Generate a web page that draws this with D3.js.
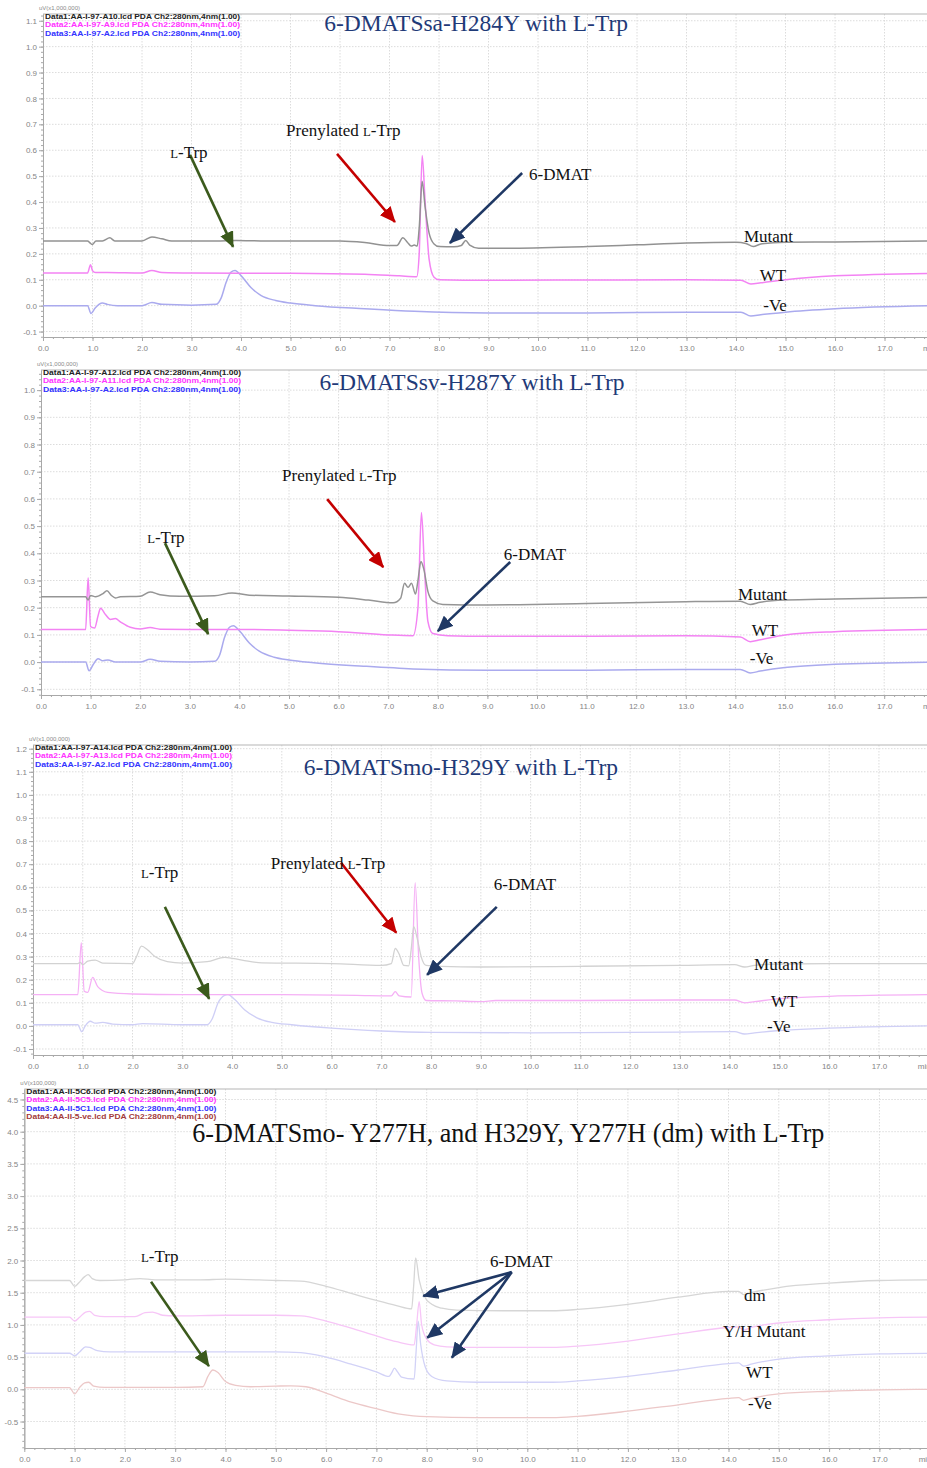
<!DOCTYPE html>
<html>
<head>
<meta charset="utf-8">
<script src="https://cdn.jsdelivr.net/npm/d3@7"></script>
<style>
  body { margin: 0; background: #fff; }
  svg { display: block; font-family: "Liberation Sans", Arial, sans-serif; }
  .axis path, .axis line { stroke: #a8a8a8; }
  .axis text { fill: #858585; font-size: 8px; }
  .grid line { stroke: #dcdcdc; stroke-dasharray: 1.5,1.5; }
  .serif { font-family: "Liberation Serif", "Times New Roman", serif; }
</style>
</head>
<body>
<svg id="chart" width="927" height="1468"></svg>
<script>
// ---- data (retention time in min, signal) ----
var minuteTicks = [0, 1, 2, 3, 4, 5, 6, 7, 8, 9, 10, 11, 12, 13, 14, 15, 16, 17];

// 6-DMATSsa-H284Y
var saMutant = [[0,0.25],[0.9,0.25],[0.95,0.242],[1.0,0.236],[1.07,0.25],[1.2,0.25],[1.35,0.262],[1.45,0.25],[2.0,0.25],[2.2,0.265],[2.4,0.258],[2.6,0.25],[3.5,0.25],[3.9,0.252],[4.5,0.25],[6.0,0.25],[6.5,0.244],[7.0,0.232],[7.15,0.232],[7.27,0.262],[7.36,0.245],[7.44,0.23],[7.5,0.234],[7.56,0.23],[7.6,0.3],[7.66,0.48],[7.72,0.38],[7.8,0.28],[7.9,0.238],[8.0,0.228],[8.3,0.227],[8.45,0.232],[8.54,0.252],[8.62,0.234],[8.8,0.222],[9.5,0.222],[11,0.228],[12,0.235],[13,0.242],[14.0,0.245],[14.2,0.24],[14.35,0.228],[14.5,0.238],[15,0.245],[16,0.246],[18,0.25]];
var saWT = [[0,0.126],[0.9,0.126],[0.96,0.158],[1.0,0.135],[1.06,0.128],[1.3,0.128],[2.0,0.126],[2.2,0.136],[2.4,0.128],[3,0.126],[5,0.125],[6.5,0.121],[7.2,0.115],[7.55,0.112],[7.6,0.2],[7.66,0.58],[7.72,0.4],[7.8,0.18],[7.9,0.11],[8.0,0.1],[9,0.098],[11,0.099],[13,0.1],[14.1,0.098],[14.3,0.084],[14.5,0.088],[15,0.1],[16,0.115],[18,0.125]];
var saNeg = [[0,0.0],[0.9,0.0],[0.97,-0.03],[1.05,-0.01],[1.2,0.01],[1.3,0.005],[1.5,0.0],[2.0,0.0],[2.2,0.012],[2.4,0.005],[3.0,0.002],[3.5,0.005],[3.6,0.03],[3.7,0.09],[3.8,0.13],[3.88,0.136],[4.0,0.116],[4.2,0.07],[4.4,0.04],[4.7,0.02],[5.0,0.01],[5.5,0.0],[6.5,-0.012],[7.5,-0.022],[9,-0.028],[11,-0.028],[13,-0.025],[14.1,-0.025],[14.3,-0.04],[14.5,-0.035],[15,-0.025],[16,-0.012],[18,0.0]];
var saLegend = ["Data1:AA-I-97-A10.lcd PDA Ch2:280nm,4nm(1.00)", "Data2:AA-I-97-A9.lcd PDA Ch2:280nm,4nm(1.00)", "Data3:AA-I-97-A2.lcd PDA Ch2:280nm,4nm(1.00)"];

// 6-DMATSsv-H287Y
var svMutant = [[0,0.24],[0.9,0.24],[0.95,0.228],[1.0,0.245],[1.1,0.24],[1.25,0.252],[1.33,0.262],[1.42,0.245],[1.5,0.236],[1.6,0.24],[2.0,0.242],[2.2,0.258],[2.4,0.248],[2.8,0.242],[3.5,0.244],[3.85,0.254],[4.2,0.246],[5,0.243],[6,0.238],[6.6,0.228],[7.1,0.218],[7.25,0.235],[7.33,0.29],[7.4,0.275],[7.47,0.29],[7.55,0.25],[7.6,0.3],[7.66,0.37],[7.72,0.34],[7.8,0.26],[7.9,0.225],[8.1,0.212],[9,0.21],[11,0.215],[13,0.222],[14.1,0.224],[14.3,0.212],[14.5,0.22],[15,0.228],[16,0.232],[18,0.238]];
var svWT = [[0,0.12],[0.9,0.12],[0.95,0.31],[1.0,0.13],[1.08,0.125],[1.15,0.17],[1.2,0.198],[1.3,0.175],[1.4,0.157],[1.5,0.16],[1.6,0.148],[1.8,0.128],[2.0,0.122],[2.2,0.127],[2.4,0.121],[3,0.12],[4,0.12],[5,0.117],[6,0.112],[7,0.1],[7.5,0.097],[7.6,0.2],[7.67,0.55],[7.73,0.35],[7.8,0.15],[7.9,0.105],[8.2,0.097],[9,0.095],[11,0.095],[13,0.097],[14.1,0.092],[14.3,0.075],[14.5,0.082],[15,0.1],[16,0.112],[18,0.12]];
var svNeg = [[0,0.0],[0.9,0.0],[0.97,-0.032],[1.05,-0.01],[1.15,0.012],[1.25,0.005],[1.35,0.008],[1.5,0.0],[2.0,0.0],[2.2,0.01],[2.4,0.003],[3.0,0.0],[3.5,0.003],[3.6,0.025],[3.7,0.09],[3.8,0.128],[3.88,0.134],[4.0,0.115],[4.2,0.07],[4.4,0.04],[4.7,0.018],[5.0,0.008],[5.5,-0.002],[6.5,-0.015],[7.5,-0.025],[9,-0.03],[11,-0.03],[13,-0.027],[14.1,-0.027],[14.3,-0.04],[14.5,-0.033],[15,-0.02],[16,-0.008],[18,0.0]];
var svLegend = ["Data1:AA-I-97-A12.lcd PDA Ch2:280nm,4nm(1.00)", "Data2:AA-I-97-A11.lcd PDA Ch2:280nm,4nm(1.00)", "Data3:AA-I-97-A2.lcd PDA Ch2:280nm,4nm(1.00)"];

// 6-DMATSmo-H329Y
var moMutant = [[0,0.27],[0.9,0.27],[0.95,0.275],[1.0,0.265],[1.1,0.28],[1.25,0.285],[1.4,0.272],[2.0,0.27],[2.08,0.3],[2.18,0.345],[2.3,0.33],[2.45,0.3],[2.7,0.278],[3.0,0.272],[3.5,0.278],[3.85,0.297],[4.2,0.285],[4.6,0.273],[6,0.27],[7.0,0.262],[7.2,0.27],[7.28,0.335],[7.36,0.31],[7.45,0.262],[7.55,0.26],[7.6,0.33],[7.65,0.43],[7.72,0.38],[7.8,0.3],[7.9,0.262],[8.2,0.258],[9,0.255],[11,0.258],[13,0.262],[14.1,0.265],[14.3,0.255],[14.5,0.262],[15,0.268],[16,0.27],[18,0.27]];
var moWT = [[0,0.135],[0.9,0.135],[0.97,0.36],[1.03,0.15],[1.1,0.145],[1.2,0.21],[1.3,0.17],[1.5,0.145],[2,0.138],[3,0.135],[5,0.135],[6.5,0.132],[7.2,0.13],[7.28,0.148],[7.36,0.13],[7.6,0.125],[7.68,0.62],[7.75,0.3],[7.82,0.14],[7.9,0.11],[8.5,0.108],[9,0.105],[9.3,0.11],[11,0.11],[13,0.112],[14.1,0.112],[14.3,0.1],[14.5,0.105],[15,0.118],[16,0.128],[18,0.135]];
var moNeg = [[0,0.005],[0.9,0.005],[0.98,-0.025],[1.05,0.0],[1.15,0.02],[1.25,0.012],[1.4,0.015],[1.6,0.008],[2,0.005],[2.2,0.01],[3,0.005],[3.5,0.005],[3.6,0.03],[3.72,0.1],[3.85,0.132],[3.92,0.135],[4.05,0.115],[4.25,0.07],[4.5,0.035],[4.8,0.015],[5.2,0.005],[6,-0.01],[7,-0.022],[8,-0.028],[10,-0.03],[13,-0.027],[14.1,-0.025],[14.3,-0.035],[14.5,-0.03],[15,-0.02],[16,-0.01],[18,0.0]];
var moLegend = ["Data1:AA-I-97-A14.lcd PDA Ch2:280nm,4nm(1.00)", "Data2:AA-I-97-A13.lcd PDA Ch2:280nm,4nm(1.00)", "Data3:AA-I-97-A2.lcd PDA Ch2:280nm,4nm(1.00)"];

// 6-DMATSmo double mutant
var dmDm = [[0,1.69],[0.9,1.69],[1.0,1.6],[1.08,1.65],[1.2,1.75],[1.27,1.78],[1.35,1.72],[1.5,1.69],[2.0,1.7],[2.3,1.72],[2.6,1.7],[3.5,1.7],[4.0,1.71],[5.0,1.69],[5.5,1.68],[6.0,1.6],[6.5,1.49],[7.0,1.38],[7.4,1.3],[7.7,1.25],[7.74,1.6],[7.78,2.04],[7.85,1.7],[7.95,1.45],[8.1,1.32],[8.3,1.26],[8.6,1.23],[9.5,1.22],[10.5,1.22],[11,1.24],[12,1.32],[13,1.43],[14,1.52],[14.2,1.52],[14.3,1.47],[14.45,1.5],[15,1.58],[16,1.65],[17,1.69],[18,1.7]];
var dmYH = [[0,1.12],[0.9,1.12],[1.0,1.06],[1.1,1.12],[1.22,1.2],[1.3,1.21],[1.4,1.15],[1.6,1.13],[2.2,1.13],[2.4,1.19],[2.55,1.2],[2.75,1.15],[3.0,1.14],[4.0,1.15],[5.0,1.15],[5.5,1.14],[6.0,1.06],[6.5,0.95],[7.0,0.83],[7.4,0.74],[7.75,0.69],[7.8,1.0],[7.85,1.36],[7.9,1.0],[8.0,0.78],[8.15,0.69],[8.4,0.66],[9,0.65],[10.5,0.65],[11,0.67],[12,0.75],[13,0.86],[14,0.96],[14.2,0.97],[14.3,0.92],[14.45,0.96],[15,1.03],[16,1.08],[17,1.11],[18,1.12]];
var dmWT = [[0,0.56],[0.9,0.56],[1.0,0.52],[1.1,0.58],[1.22,0.66],[1.3,0.65],[1.45,0.6],[1.7,0.58],[3,0.58],[5,0.58],[5.5,0.57],[6.0,0.5],[6.5,0.39],[7.0,0.27],[7.25,0.2],[7.3,0.25],[7.36,0.33],[7.42,0.27],[7.5,0.19],[7.75,0.16],[7.79,0.6],[7.83,1.06],[7.88,0.7],[7.97,0.35],[8.1,0.2],[8.4,0.13],[9,0.11],[10.5,0.11],[11,0.13],[12,0.2],[13,0.3],[14,0.4],[14.2,0.41],[14.3,0.36],[14.45,0.39],[15,0.47],[16,0.52],[17,0.55],[18,0.56]];
var dmNeg = [[0,0.025],[0.9,0.025],[1.0,-0.07],[1.1,0.03],[1.2,0.1],[1.28,0.11],[1.38,0.05],[1.6,0.03],[3.0,0.03],[3.55,0.04],[3.65,0.2],[3.75,0.3],[3.85,0.26],[4.0,0.12],[4.2,0.06],[4.5,0.04],[5.0,0.05],[5.3,0.055],[5.6,0.04],[6.0,-0.06],[6.5,-0.2],[7.0,-0.3],[7.5,-0.39],[8.0,-0.425],[9,-0.44],[10.5,-0.44],[11,-0.42],[12,-0.34],[13,-0.24],[14,-0.14],[14.2,-0.13],[14.3,-0.17],[14.45,-0.14],[15,-0.07],[16,-0.03],[17,-0.01],[18,0.0]];
var dmLegend = ["Data1:AA-II-5C6.lcd PDA Ch2:280nm,4nm(1.00)", "Data2:AA-II-5C5.lcd PDA Ch2:280nm,4nm(1.00)", "Data3:AA-II-5C1.lcd PDA Ch2:280nm,4nm(1.00)", "Data4:AA-II-5-ve.lcd PDA Ch2:280nm,4nm(1.00)"];

var legendColors = ["#222", "#ff33ff", "#3333ff", "#a33a3a"];

// ---- panel layout (annotations are in data units) ----
var panels = [
  {
    left: 43, right: 934, top: 14, bottom: 337, yDomain: [-0.121, 1.126],
    yTicks: [-0.1,0,0.1,0.2,0.3,0.4,0.5,0.6,0.7,0.8,0.9,1.0,1.1], yMinor: 0.02, unit: "uV(x1,000,000)",
    series: [saMutant, saWT, saNeg], colors: ["#929292", "#f383f3", "#aaaaee"], width: 1.5,
    legend: saLegend, legendW: 195,
    title: "6-DMATSsa-H284Y with L-Trp", titleAt: [8.75, 1.062], titleColor: "#1f3a78", titleSize: 23.5,
    labels: [["Mutant", 14.16, 0.246], ["WT", 14.48, 0.095], ["-Ve", 14.55, -0.02]],
    notes: [["L-Trp", 2.57, 0.57], ["Prenylated L-Trp", 4.91, 0.655], ["6-DMAT", 9.82, 0.485]],
    arrows: [["green", 2.97, 0.582, 3.84, 0.227], ["red", 5.94, 0.586, 7.11, 0.323], ["navy", 9.68, 0.512, 8.22, 0.242]]
  },
  {
    left: 41, right: 933.8, top: 370, bottom: 695, yDomain: [-0.121, 1.074],
    yTicks: [-0.1,0,0.1,0.2,0.3,0.4,0.5,0.6,0.7,0.8,0.9,1.0], yMinor: 0.02, unit: "uV(x1,000,000)",
    series: [svMutant, svWT, svNeg], colors: ["#959595", "#f383f3", "#aaaaee"], width: 1.5,
    legend: svLegend, legendW: 198,
    title: "6-DMATSsv-H287Y with L-Trp", titleAt: [8.69, 1.0], titleColor: "#1f3a78", titleSize: 23.5,
    labels: [["Mutant", 14.05, 0.228], ["WT", 14.33, 0.096], ["-Ve", 14.29, -0.007]],
    notes: [["L-Trp", 2.14, 0.4375], ["Prenylated L-Trp", 4.86, 0.665], ["6-DMAT", 9.33, 0.375]],
    arrows: [["green", 2.5, 0.4375, 3.37, 0.103], ["red", 5.77, 0.599, 6.9, 0.349], ["navy", 9.46, 0.368, 8.0, 0.114]]
  },
  {
    left: 33, right: 928.7, top: 745, bottom: 1055, yDomain: [-0.126, 1.216],
    yTicks: [-0.1,0,0.1,0.2,0.3,0.4,0.5,0.6,0.7,0.8,0.9,1.0,1.1,1.2], yMinor: 0.02, unit: "uV(x1,000,000)",
    series: [moMutant, moWT, moNeg], colors: ["#d2d2d2", "#f5b0f5", "#cfcff6"], width: 1.3,
    legend: moLegend, legendW: 197,
    title: "6-DMATSmo-H329Y with L-Trp", titleAt: [8.6, 1.087], titleColor: "#1f3a78", titleSize: 23.5,
    labels: [["Mutant", 14.49, 0.242], ["WT", 14.83, 0.082], ["-Ve", 14.75, -0.026]],
    notes: [["L-Trp", 2.17, 0.64], ["Prenylated L-Trp", 4.78, 0.68], ["6-DMAT", 9.26, 0.589]],
    arrows: [["green", 2.65, 0.515, 3.54, 0.117], ["red", 6.19, 0.706, 7.3, 0.403], ["navy", 9.32, 0.515, 7.92, 0.221]]
  },
  {
    left: 24.3, right: 929.7, top: 1089, bottom: 1448, yDomain: [-0.911, 4.663],
    yTicks: [-0.5,0,0.5,1.0,1.5,2.0,2.5,3.0,3.5,4.0,4.5], yMinor: 0.1, unit: "uV(x100,000)",
    series: [dmDm, dmYH, dmWT, dmNeg], colors: ["#d6d6d6", "#f7c6f7", "#d2d2f7", "#ecc8c8"], width: 1.3,
    legend: dmLegend, legendW: 190,
    title: "6-DMATSmo- Y277H, and H329Y, Y277H (dm) with L-Trp", titleAt: [9.62, 3.84], titleColor: "#111", titleSize: 28, titleW: 632,
    labels: [["dm", 14.31, 1.37], ["Y/H Mutant", 13.89, 0.81], ["WT", 14.35, 0.18], ["-Ve", 14.39, -0.305]],
    notes: [["L-Trp", 2.32, 1.97], ["6-DMAT", 9.26, 1.9]],
    arrows: [["green", 2.52, 1.67, 3.67, 0.36], ["navy", 9.69, 1.82, 7.93, 1.45], ["navy", 9.69, 1.82, 8.01, 0.8], ["navy", 9.69, 1.82, 8.5, 0.49]]
  }
];

var arrowColors = { green: "#3b5a1c", red: "#c40000", navy: "#1f3864" };

var svg = d3.select("#chart");
var defs = svg.append("defs");

Object.keys(arrowColors).forEach(function (k) {
  defs.append("marker")
    .attr("id", "head-" + k)
    .attr("markerUnits", "userSpaceOnUse")
    .attr("viewBox", "0 0 16 14")
    .attr("markerWidth", 16).attr("markerHeight", 14)
    .attr("refX", 15).attr("refY", 7)
    .attr("orient", "auto")
    .append("path")
    .attr("d", "M0,0 L16,7 L0,14 Z")
    .attr("fill", arrowColors[k]);
});

// write "L-Trp" with the small capital L
function writeLabel(sel, txt) {
  var i = txt.indexOf("L-Trp");
  if (i < 0) { sel.text(txt); return; }
  if (i > 0) sel.append("tspan").text(txt.slice(0, i));
  sel.append("tspan").attr("font-size", "0.75em").text("L");
  sel.append("tspan").text("-Trp");
}

function drawPanel(p, idx) {
  var x = d3.scaleLinear().domain([0, 18]).range([p.left, p.right]);
  var y = d3.scaleLinear().domain(p.yDomain).range([p.bottom, p.top]);
  var g = svg.append("g").attr("class", "panel-" + idx);

  defs.append("clipPath").attr("id", "clip" + idx)
    .append("rect").attr("x", p.left).attr("y", p.top)
    .attr("width", 927 - p.left).attr("height", p.bottom - p.top);

  // gridlines
  g.append("g").attr("class", "grid").selectAll("line")
    .data(p.yTicks).join("line")
    .attr("x1", p.left).attr("x2", 927)
    .attr("y1", function (d) { return y(d); }).attr("y2", function (d) { return y(d); });
  g.append("g").attr("class", "grid").selectAll("line")
    .data(minuteTicks.slice(1)).join("line")
    .attr("x1", function (d) { return x(d); }).attr("x2", function (d) { return x(d); })
    .attr("y1", p.top).attr("y2", p.bottom);

  // top border
  g.append("line").attr("x1", p.left).attr("x2", 927)
    .attr("y1", p.top).attr("y2", p.top).attr("stroke", "#b5b5b5");

  // axes
  var fmt = function (d) { return d.toFixed(1); };
  g.append("g").attr("class", "axis").attr("transform", "translate(" + p.left + ",0)")
    .call(d3.axisLeft(y).tickValues(p.yTicks).tickFormat(fmt).tickSizeInner(4).tickSizeOuter(0).tickPadding(2));
  g.append("g").attr("class", "axis").attr("transform", "translate(" + p.left + ",0)")
    .call(d3.axisLeft(y).tickValues(d3.range(Math.ceil(p.yDomain[0] / p.yMinor) * p.yMinor, p.yDomain[1], p.yMinor))
      .tickFormat("").tickSizeInner(2).tickSizeOuter(0));
  g.append("g").attr("class", "axis").attr("transform", "translate(0," + p.bottom + ")")
    .call(d3.axisBottom(x).tickValues(minuteTicks).tickFormat(fmt).tickSizeInner(4).tickSizeOuter(0).tickPadding(4));
  g.append("g").attr("class", "axis").attr("transform", "translate(0," + p.bottom + ")")
    .call(d3.axisBottom(x).tickValues(d3.range(0, 18, 0.2)).tickFormat("").tickSizeInner(2).tickSizeOuter(0));
  // axis unit, cut by the page edge as in the original
  g.append("text").attr("x", x(17.78)).attr("y", p.bottom + 14)
    .attr("fill", "#858585").attr("font-size", "8px").text("min");

  // unit
  g.append("text").attr("x", p.left - 4).attr("y", p.top - 4)
    .attr("fill", "#8a8a8a").attr("font-size", "6px").text(p.unit);

  // traces (last series drawn first so Data1 stays on top)
  var line = d3.line()
    .x(function (d) { return x(d[0]); })
    .y(function (d) { return y(d[1]); })
    .curve(d3.curveMonotoneX);
  var traces = g.append("g").attr("clip-path", "url(#clip" + idx + ")");
  p.series.slice().reverse().forEach(function (s, i) {
    var c = p.colors[p.series.length - 1 - i];
    traces.append("path").datum(s)
      .attr("fill", "none").attr("stroke", c).attr("stroke-width", p.width)
      .attr("stroke-linejoin", "round").attr("d", line);
  });

  // legend
  g.append("g").selectAll("text").data(p.legend).join("text")
    .attr("x", p.left + 2)
    .attr("y", function (d, i) { return p.top + 5 + i * 8.4; })
    .attr("font-size", "7.5px").attr("font-weight", "bold")
    .attr("textLength", p.legendW).attr("lengthAdjust", "spacingAndGlyphs")
    .attr("fill", function (d, i) { return legendColors[i]; })
    .text(function (d) { return d; });

  // title
  var t = g.append("text").attr("class", "serif")
    .attr("x", x(p.titleAt[0])).attr("y", y(p.titleAt[1]))
    .attr("text-anchor", "middle").attr("fill", p.titleColor)
    .attr("font-size", p.titleSize + "px")
    .text(p.title);
  if (p.titleW) t.attr("textLength", p.titleW).attr("lengthAdjust", "spacingAndGlyphs");

  // trace labels
  g.append("g").selectAll("text").data(p.labels).join("text")
    .attr("class", "serif").attr("font-size", "17px").attr("fill", "#111")
    .attr("x", function (d) { return x(d[1]); })
    .attr("y", function (d) { return y(d[2]); })
    .text(function (d) { return d[0]; });

  // arrows
  g.append("g").selectAll("line").data(p.arrows).join("line")
    .attr("x1", function (d) { return x(d[1]); }).attr("y1", function (d) { return y(d[2]); })
    .attr("x2", function (d) { return x(d[3]); }).attr("y2", function (d) { return y(d[4]); })
    .attr("stroke", function (d) { return arrowColors[d[0]]; })
    .attr("stroke-width", 2.6)
    .attr("marker-end", function (d) { return "url(#head-" + d[0] + ")"; });

  // annotation text
  p.notes.forEach(function (n) {
    var tx = g.append("text").attr("class", "serif")
      .attr("font-size", "17px").attr("fill", "#111")
      .attr("x", x(n[1])).attr("y", y(n[2]));
    writeLabel(tx, n[0]);
  });
}

panels.forEach(drawPanel);
</script>
</body>
</html>
